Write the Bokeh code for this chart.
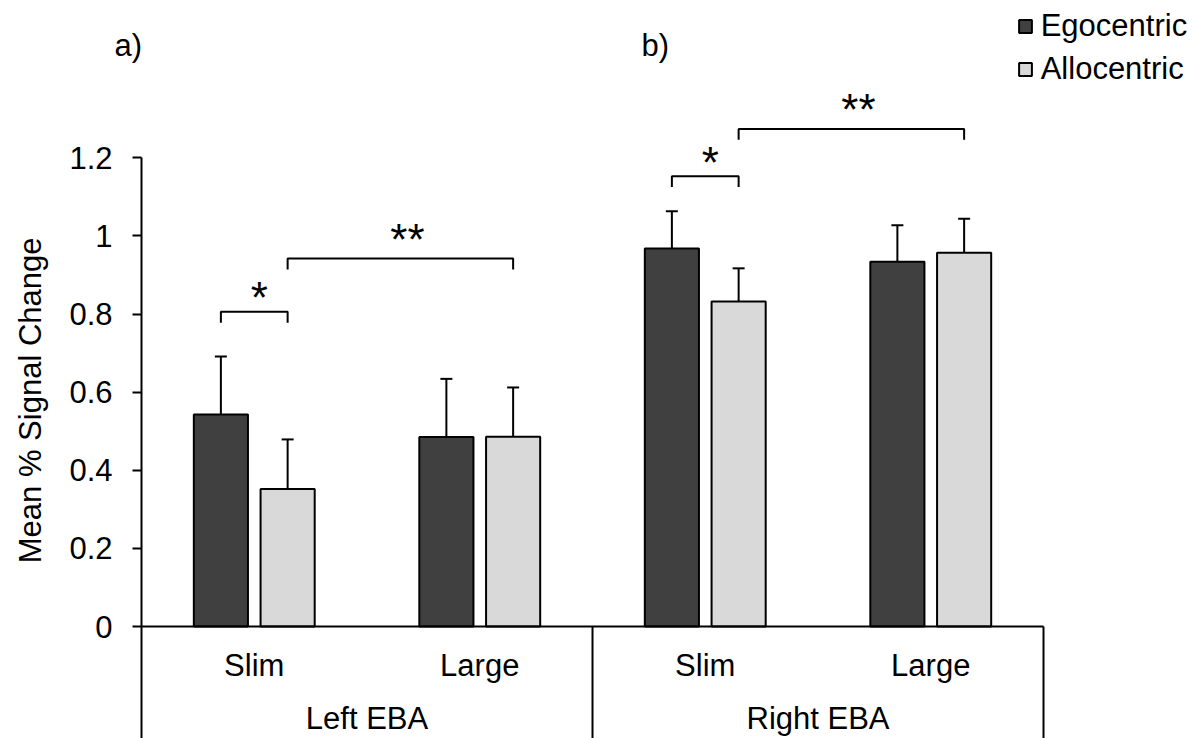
import math
from bokeh.plotting import figure
from bokeh.models import (Range1d, ColumnDataSource, LinearAxis, FixedTicker,
                          NumeralTickFormatter, Whisker, TeeHead, Legend,
                          LegendItem, Label)
from bokeh.core.properties import value
from bokeh.embed import file_html
from bokeh.resources import INLINE

# ---------------- data ----------------
regions = ["Left EBA", "Right EBA"]
sizes = ["Slim", "Large"]
conditions = ["Egocentric", "Allocentric"]
egocentric = [0.543, 0.485, 0.968, 0.934]
allocentric = [0.352, 0.486, 0.832, 0.957]
egocentric_err = [0.148, 0.149, 0.095, 0.093]
allocentric_err = [0.127, 0.126, 0.085, 0.087]
y_ticks = [0, 0.2, 0.4, 0.6, 0.8, 1.0, 1.2]
y_title = "Mean % Signal Change"
panel_tags = ["a)", "b)"]

# significance brackets: (region, size, condition) -> (region, size, condition)
sig_from = [("Left EBA", "Slim", "Egocentric"), ("Left EBA", "Slim", "Allocentric"),
            ("Right EBA", "Slim", "Egocentric"), ("Right EBA", "Slim", "Allocentric")]
sig_to = [("Left EBA", "Slim", "Allocentric"), ("Left EBA", "Large", "Allocentric"),
          ("Right EBA", "Slim", "Allocentric"), ("Right EBA", "Large", "Allocentric")]
sig_height = [0.806, 0.942, 1.153, 1.274]
sig_labels = ["*", "**", "*", "**"]

# ---------------- style ----------------
FONT = "Liberation Sans"
FS = "31px"
EGO_COLOR = "#404040"
ALLO_COLOR = "#D9D9D9"
DODGE = {"Egocentric": -0.148, "Allocentric": 0.148}
BAR_W = 0.24
LEG = 0.028

# categories laid out one unit each on a numeric axis
cats = [(r, s) for r in regions for s in sizes]
cat_center = [i + 0.5 for i in range(len(cats))]
n_sub = len(sizes)
region_center = [i * n_sub + n_sub / 2 for i in range(len(regions))]
region_bounds = [i * n_sub for i in range(len(regions) + 1)]

x_range = Range1d(-0.6253, 4.7095)
y_range = Range1d(-0.2867, 1.6027)

p = figure(width=1203, height=738, x_range=x_range, y_range=y_range,
           x_axis_location=None, y_axis_location=None,
           min_border_left=0, min_border_right=0, min_border_top=0,
           min_border_bottom=0, output_backend="svg", toolbar_location=None,
           title=None, outline_line_color=None, background_fill_color="white",
           border_fill_color="white")
p.grid.visible = False

src = ColumnDataSource(dict(
    x_ego=[c + DODGE["Egocentric"] for c in cat_center],
    x_allo=[c + DODGE["Allocentric"] for c in cat_center],
    ego=egocentric,
    allo=allocentric,
    ego_hi=[v + e for v, e in zip(egocentric, egocentric_err)],
    allo_hi=[v + e for v, e in zip(allocentric, allocentric_err)],
))

r_ego = p.vbar(x="x_ego", top="ego", width=BAR_W, source=src, fill_color=EGO_COLOR,
               line_color="black", line_width=2)
r_allo = p.vbar(x="x_allo", top="allo", width=BAR_W, source=src, fill_color=ALLO_COLOR,
                line_color="black", line_width=2)

for xcol, lo, hi in [("x_ego", "ego", "ego_hi"), ("x_allo", "allo", "allo_hi")]:
    p.add_layout(Whisker(source=src, base=xcol, lower=lo, upper=hi,
                         line_color="black", line_width=2,
                         upper_head=TeeHead(size=12, line_color="black", line_width=2),
                         lower_head=None))

# region separators below the x axis
p.segment(x0=region_bounds, y0=[0] * len(region_bounds), x1=region_bounds,
          y1=[y_range.start] * len(region_bounds), line_color="black", line_width=2)

# significance brackets
def pos(key):
    r, s, c = key
    return cat_center[cats.index((r, s))] + DODGE[c]

xs, ys, mids = [], [], []
for a, b, h in zip(sig_from, sig_to, sig_height):
    x0, x1 = pos(a), pos(b)
    xs.append([x0, x0, x1, x1])
    ys.append([h - LEG, h, h, h - LEG])
    mids.append((x0 + x1) / 2)
p.multi_line(xs=xs, ys=ys, line_color="black", line_width=2)
p.text(x=mids, y=sig_height, text=sig_labels, text_align="center",
       text_baseline="alphabetic", text_font=value(FONT), text_font_size="44px",
       text_color="black",
       x_offset=[5 if len(t) == 1 else 7 for t in sig_labels],
       y_offset=[-14 if len(t) == 1 else -19 for t in sig_labels])

# y axis at x = 0
ya = LinearAxis(fixed_location=0, ticker=FixedTicker(ticks=y_ticks),
                formatter=NumeralTickFormatter(format="0.[0]"),
                bounds=(y_ticks[0], y_ticks[-1]),
                axis_line_color="black", axis_line_width=2,
                major_tick_line_color="black", major_tick_line_width=2,
                major_tick_out=9, major_tick_in=0, minor_tick_line_color=None,
                major_label_standoff=20, major_label_text_font=FONT,
                major_label_text_font_size=FS, major_label_text_color="black")
p.add_layout(ya, "left")

# y title
p.add_layout(Label(x=30, y=(y_ticks[0] + y_ticks[-1]) / 2 - 0.021, x_units="screen",
                   y_units="data", text=y_title, angle=math.pi / 2,
                   text_align="center", text_baseline="middle", text_font=FONT,
                   text_font_size=FS, text_color="black"))

# x axis (sub-categories) at y = 0
xa = LinearAxis(fixed_location=0, ticker=FixedTicker(ticks=cat_center),
                major_label_overrides={c: s for c, (r, s) in zip(cat_center, cats)},
                bounds=(region_bounds[0], region_bounds[-1]),
                axis_line_color="black", axis_line_width=2,
                major_tick_line_color=None, major_tick_out=0, major_tick_in=0,
                minor_tick_line_color=None,
                major_label_standoff=21, major_label_text_font=FONT,
                major_label_text_font_size=FS, major_label_text_color="black")
p.add_layout(xa, "below")

# region labels
ga = LinearAxis(fixed_location=0, ticker=FixedTicker(ticks=region_center),
                major_label_overrides={c: r for c, r in zip(region_center, regions)},
                bounds=(region_bounds[0], region_bounds[-1]),
                axis_line_color=None, major_tick_line_color=None,
                major_tick_out=0, major_tick_in=0, minor_tick_line_color=None,
                major_label_standoff=74, major_label_text_font=FONT,
                major_label_text_font_size=FS, major_label_text_color="black")
p.add_layout(ga, "below")

# legend
legend = Legend(items=[LegendItem(label=conditions[0], renderers=[r_ego]),
                       LegendItem(label=conditions[1], renderers=[r_allo])],
                location=(1016.7, 651.5), orientation="vertical",
                glyph_width=16, glyph_height=16, label_standoff=8, spacing=7,
                padding=0, margin=0, border_line_color=None,
                background_fill_alpha=0, label_text_font=FONT,
                label_text_font_size=FS, label_text_color="black")
p.add_layout(legend)

# panel tags
for tag, sx in zip(panel_tags, [114, 641]):
    p.add_layout(Label(x=sx, y=693, x_units="screen", y_units="screen", text=tag,
                       text_font=FONT, text_font_size=FS, text_color="black",
                       text_baseline="alphabetic"))

open("out.html", "w").write(file_html(p, INLINE))
